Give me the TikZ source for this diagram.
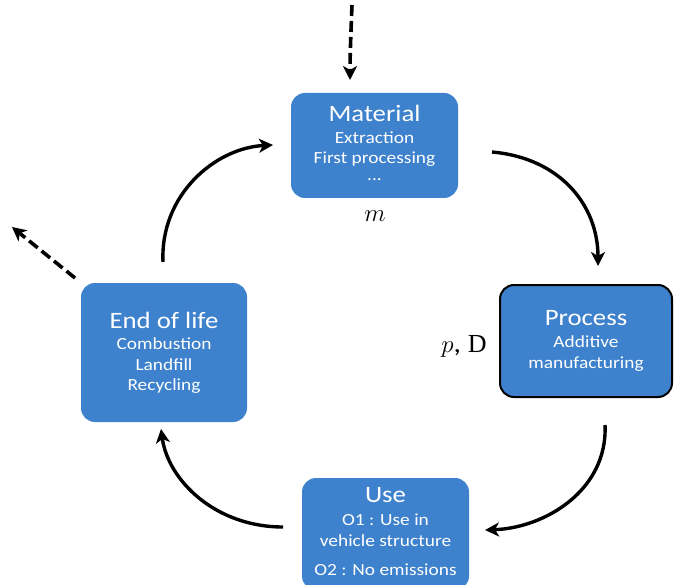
\documentclass[tikz,border=0pt]{standalone}
\usepackage{fontspec}
\setmainfont[FakeStretch=1.14]{Carlito}
\usetikzlibrary{arrows.meta}
\definecolor{boxblue}{RGB}{62,129,205}
\begin{document}
\begin{tikzpicture}[x=1pt,y=-1pt,
  box/.style={fill=boxblue,rounded corners=14pt,text=white,align=center,inner sep=0pt},
  ttl/.style={font=\fontsize{23.5}{24}\selectfont,inner sep=1pt},
  sub/.style={font=\fontsize{17}{20}\selectfont,inner sep=1pt},
  flow/.style={line width=3.4pt,-{Stealth[length=14pt,width=14pt,inset=4pt]}},
  ext/.style={flow,line width=3.6pt,dash pattern=on 11pt off 5pt}]
\useasboundingbox (0,0) rectangle (684,585);
% boxes
\node[box,minimum width=167pt,minimum height=105pt] (mat) at (374.5,145.5) {};
\node[box,minimum width=172pt,minimum height=112pt,draw=black,line width=2pt] (proc) at (586,341) {};
\node[box,minimum width=166pt,minimum height=139pt] (eol) at (164,352.5) {};
\node[box,minimum width=167pt,minimum height=112pt] (use) at (385.5,534) {};
% texts
\node[ttl,text=white] (matt) at (374.5,113) {Material};
\node[sub,text=white] (mat1) at (374.5,138) {Extraction};
\node[sub,text=white] (mat2) at (374.5,159) {First processing};
\node[sub,text=white] (mat3) at (374.5,180) {...};
\node[ttl,text=white] (proct) at (586,318) {Process};
\node[sub,text=white] (proc1) at (586,342) {Additive};
\node[sub,text=white] (proc2) at (586,364) {manufacturing};
\node[ttl,text=white] (eolt) at (164,320) {End of life};
\node[sub,text=white] (eol1) at (164,344) {Combustion};
\node[sub,text=white] (eol2) at (164,365) {Landfill};
\node[sub,text=white] (eol3) at (164,386) {Recycling};
\node[ttl,text=white] (uset) at (385.5,495) {Use};
\node[sub,text=white] (use1) at (385.5,520) {O1 : Use in};
\node[sub,text=white] (use2) at (385.5,541) {vehicle structure};
\node[sub,text=white] (use3) at (385.5,570) {O2 : No emissions};
% parameter labels
\node[font=\fontsize{27}{28}\selectfont] (mlab) at (375,216) {$m$};
\node[font=\fontsize{26}{28}\selectfont] (pdlab) at (464,346) {$p$, \textrm{\fontspec{Liberation Serif}D}};
% connector endpoints
\coordinate (a1) at (492,152);
\coordinate (a2) at (598,266);
\coordinate (b1) at (605,425);
\coordinate (b2) at (485,530);
\coordinate (c1) at (283,527);
\coordinate (c2) at (161,429);
\coordinate (d1) at (163,262);
\coordinate (d2) at (273,145);
\coordinate (in1) at (352,5);
\coordinate (in2) at (350,80);
\coordinate (out1) at (75,278);
\coordinate (out2) at (12,227);
% connectors
\draw[flow] (a1) .. controls (560,158) and (598,205) .. (a2);
\draw[flow] (b1) .. controls (608,490) and (545,528) .. (b2);
\draw[flow] (c1) .. controls (215,527) and (168,480) .. (c2);
\draw[flow] (d1) .. controls (160,195) and (215,148) .. (d2);
\draw[ext] (in1) .. controls (351,30) and (350,55) .. (in2);
\draw[ext] (out1) -- (out2);
\end{tikzpicture}
\end{document}
